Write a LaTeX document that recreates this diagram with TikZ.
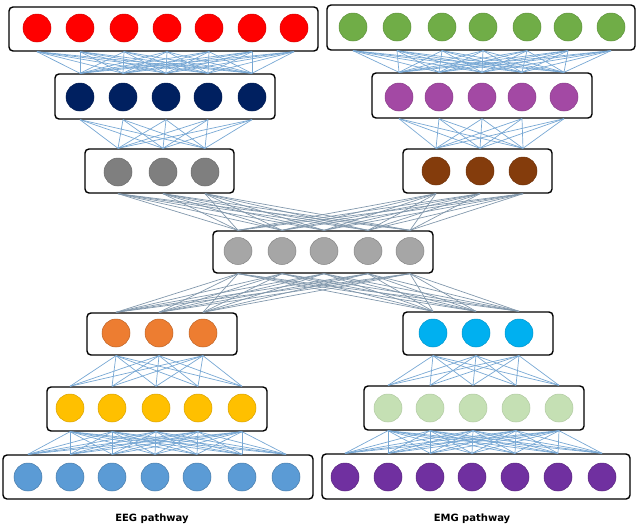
\documentclass[tikz,border=0pt]{standalone}
\usepackage{fontspec}
\setmainfont{DejaVu Sans}
\usetikzlibrary{shapes.geometric}
\definecolor{cred}{HTML}{FF0000}
\definecolor{cnavy}{HTML}{002060}
\definecolor{cgray}{HTML}{7F7F7F}
\definecolor{cgreen}{HTML}{70AD47}
\definecolor{cpurple}{HTML}{A349A4}
\definecolor{cbrown}{HTML}{843C0C}
\definecolor{cmid}{HTML}{A6A6A6}
\definecolor{corange}{HTML}{ED7D31}
\definecolor{ccyan}{HTML}{00B0F0}
\definecolor{cyellow}{HTML}{FFC000}
\definecolor{clgreen}{HTML}{C5E0B4}
\definecolor{cblue}{HTML}{5B9BD5}
\definecolor{cviolet}{HTML}{7030A0}
\definecolor{linkblue}{RGB}{120,168,212}
\definecolor{linkgray}{RGB}{130,152,172}
\tikzset{
  box/.style={draw=black, line width=1.4pt, rounded corners=4pt, fill=white, inner sep=0pt},
  neuron/.style={circle, minimum size=28pt, inner sep=0pt, line width=0.5pt},
  link/.style={line width=0.7pt, draw=linkblue},
  xlink/.style={line width=0.7pt, draw=linkgray},
  label/.style={font=\bfseries\fontsize{10}{12}\selectfont}
}
\begin{document}
\begin{tikzpicture}[x=1pt,y=-1pt]
\useasboundingbox (0,0) rectangle (640,528);
% boxes
\node[box, minimum width=309, minimum height=44] (L1) at (163.5,29) {};
\node[box, minimum width=220, minimum height=45] (L2) at (165,96.5) {};
\node[box, minimum width=149, minimum height=44] (L3) at (159.5,171) {};
\node[box, minimum width=308, minimum height=45] (R1) at (481,27.5) {};
\node[box, minimum width=220, minimum height=45] (R2) at (482,95.5) {};
\node[box, minimum width=149, minimum height=44] (R3) at (477.5,171) {};
\node[box, minimum width=220, minimum height=42] (M) at (323,252) {};
\node[box, minimum width=150, minimum height=42] (L4) at (162,334) {};
\node[box, minimum width=220, minimum height=44] (L5) at (157,409) {};
\node[box, minimum width=310, minimum height=44] (L6) at (158,477) {};
\node[box, minimum width=150, minimum height=43] (R4) at (478,333.5) {};
\node[box, minimum width=220, minimum height=44] (R5) at (474,408) {};
\node[box, minimum width=308, minimum height=45] (R6) at (476,476.5) {};
% neurons
\foreach \x [count=\i] in {37,80,124,167,209,252,294}
  \node[neuron, fill=cred, draw=cred!85!black] (L1n\i) at (\x,28) {};
\foreach \x [count=\i] in {80,123,166,208,252}
  \node[neuron, fill=cnavy, draw=cnavy!85!black] (L2n\i) at (\x,97) {};
\foreach \x [count=\i] in {118,163,205}
  \node[neuron, fill=cgray, draw=cgray!85!black] (L3n\i) at (\x,172) {};
\foreach \x [count=\i] in {353,397,442,483,527,568,611}
  \node[neuron, fill=cgreen, draw=cgreen!85!black] (R1n\i) at (\x,27) {};
\foreach \x [count=\i] in {399,439,482,522,564}
  \node[neuron, fill=cpurple, draw=cpurple!85!black] (R2n\i) at (\x,97) {};
\foreach \x [count=\i] in {436,480,523}
  \node[neuron, fill=cbrown, draw=cbrown!85!black] (R3n\i) at (\x,171) {};
\foreach \x [count=\i] in {238,282,324,368,410}
  \node[neuron, ellipse, fill=cmid, draw=cmid!80!black, minimum width=28pt, minimum height=27pt] (Mn\i) at (\x,251) {};
\foreach \x [count=\i] in {116,159,203}
  \node[neuron, fill=corange, draw=corange!80!black] (L4n\i) at (\x,333) {};
\foreach \x [count=\i] in {70,112,156,198,242}
  \node[neuron, fill=cyellow, draw=cyellow!85!black] (L5n\i) at (\x,408) {};
\foreach \x [count=\i] in {28,70,112,155,197,242,286}
  \node[neuron, fill=cblue, draw=cblue!80!black] (L6n\i) at (\x,477) {};
\foreach \x [count=\i] in {433,476,519}
  \node[neuron, fill=ccyan, draw=ccyan!85!black] (R4n\i) at (\x,333) {};
\foreach \x [count=\i] in {388,430,473,516,559}
  \node[neuron, fill=clgreen, draw=clgreen!90!black] (R5n\i) at (\x,408) {};
\foreach \x [count=\i] in {345,388,430,472,515,558,602}
  \node[neuron, fill=cviolet, draw=cviolet!80!black] (R6n\i) at (\x,477) {};
% connections
\foreach \i in {1,...,7} \foreach \j in {1,...,5} {
  \draw[link] (L1n\i |- L1.south) -- (L2n\j |- L2.north);
  \draw[link] (R1n\i |- R1.south) -- (R2n\j |- R2.north);
  \draw[link] (L5n\j |- L5.south) -- (L6n\i |- L6.north);
  \draw[link] (R5n\j |- R5.south) -- (R6n\i |- R6.north);
}
\foreach \i in {1,...,5} \foreach \j in {1,...,3} {
  \draw[link] (L2n\i |- L2.south) -- (L3n\j |- L3.north);
  \draw[link] (R2n\i |- R2.south) -- (R3n\j |- R3.north);
  \draw[link] (L4n\j |- L4.south) -- (L5n\i |- L5.north);
  \draw[link] (R4n\j |- R4.south) -- (R5n\i |- R5.north);
  \draw[xlink] (L3n\j |- L3.south) -- (Mn\i |- M.north);
  \draw[xlink] (R3n\j |- R3.south) -- (Mn\i |- M.north);
  \draw[xlink] (Mn\i |- M.south) -- (L4n\j |- L4.north);
  \draw[xlink] (Mn\i |- M.south) -- (R4n\j |- R4.north);
}
% labels
\node[label] (eeg) at (152,519) {EEG pathway};
\node[label] (emg) at (472,519) {EMG pathway};
\end{tikzpicture}
\end{document}
